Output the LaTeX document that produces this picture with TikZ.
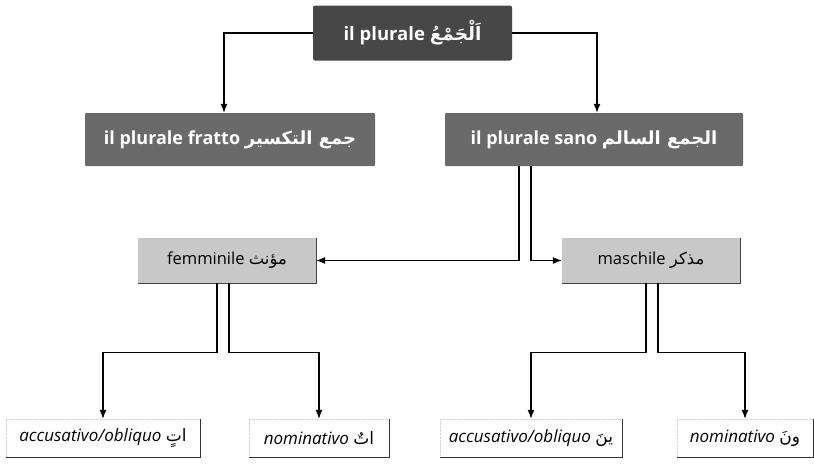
\documentclass[tikz,border=0pt]{standalone}
\usepackage{fontspec}
\setmainfont{Open Sans}
\newfontfamily\arabicfont[Script=Arabic]{DejaVu Sans}
\TeXXeTstate=1
\usetikzlibrary{arrows.meta}
\definecolor{topgray}{HTML}{474747}
\definecolor{midgray}{HTML}{6A6A6A}
\definecolor{lightgray}{HTML}{C8C8C8}
\newcommand{\ar}[1]{{\arabicfont\beginR #1\endR}}
\begin{document}
\begin{tikzpicture}[x=1pt,y=-1pt,
  conn/.style={line width=1.1pt,-{Latex[length=9pt,width=7pt]}},
  darkbox/.style={fill=topgray,text=white,font=\fontsize{18.5}{22}\selectfont\bfseries,rounded corners=2pt,inner sep=0pt,minimum height=55pt},
  midbox/.style={fill=midgray,text=white,font=\fontsize{18}{21}\selectfont\bfseries,rounded corners=1pt,inner sep=0pt,minimum height=53pt},
  lightbox/.style={fill=lightgray,text=black,font=\fontsize{16.5}{19}\selectfont,inner sep=0pt,minimum width=178pt,minimum height=45pt},
  labelbox/.style={draw=gray!35,densely dotted,font=\fontsize{17}{20}\selectfont,inner sep=0pt,minimum height=38pt}
]
\useasboundingbox (0,0) rectangle (814,464);
\fill[white] (0,0) rectangle (814,464);

\node[darkbox,minimum width=199pt] (top) at (412.5,33) {il plurale \ar{اَلْجَمْعُ}};
\node[midbox,minimum width=290pt] (fratto) at (230,139.5) {il plurale fratto \ar{جمع التكسير}};
\node[midbox,minimum width=298pt] (sano) at (594,139.5) {il plurale sano \ar{الجمع السالم}};

\node[lightbox] (fem) at (227,260.5) {femminile \ar{مؤنث}};
\node[lightbox] (masc) at (651,260.5) {maschile \ar{مذكر}};
\foreach \n in {fem,masc}{
  \draw[black!75,line width=1.2pt] (\n.north east) -- (\n.south east) -- (\n.south west);
}

\node[labelbox,minimum width=194pt] (accf) at (103,438) {\itshape accusativo/obliquo \upshape\ar{اتٍ}};
\node[labelbox,minimum width=140pt] (nomf) at (319,438) {\itshape nominativo \upshape\ar{اتٌ}};
\node[labelbox,minimum width=182pt] (accm) at (531,438) {\itshape accusativo/obliquo \upshape\ar{ينَ}};
\node[labelbox,minimum width=136pt] (nomm) at (745,438) {\itshape nominativo \upshape\ar{ونَ}};
\foreach \n in {accf,nomf,accm,nomm}{
  \draw[black!80,line width=1.1pt] (\n.north east) -- (\n.south east) -- (\n.south west);
}

\draw[conn] (top.west) -| ([xshift=-6pt]fratto.north);
\draw[conn] (top.east) -| ([xshift=3pt]sano.north);

\draw[conn] ([xshift=-75pt]sano.south) |- (fem.east);
\draw[conn] ([xshift=-63pt]sano.south) |- (masc.west);

\draw[conn] ([xshift=-10pt]fem.south) -- ++(0,69) -| (accf.north);
\draw[conn] ([xshift=2pt]fem.south) -- ++(0,69) -| (nomf.north);
\draw[conn] ([xshift=-5pt]masc.south) -- ++(0,69) -| (accm.north);
\draw[conn] ([xshift=7pt]masc.south) -- ++(0,69) -| (nomm.north);
\end{tikzpicture}
\end{document}
